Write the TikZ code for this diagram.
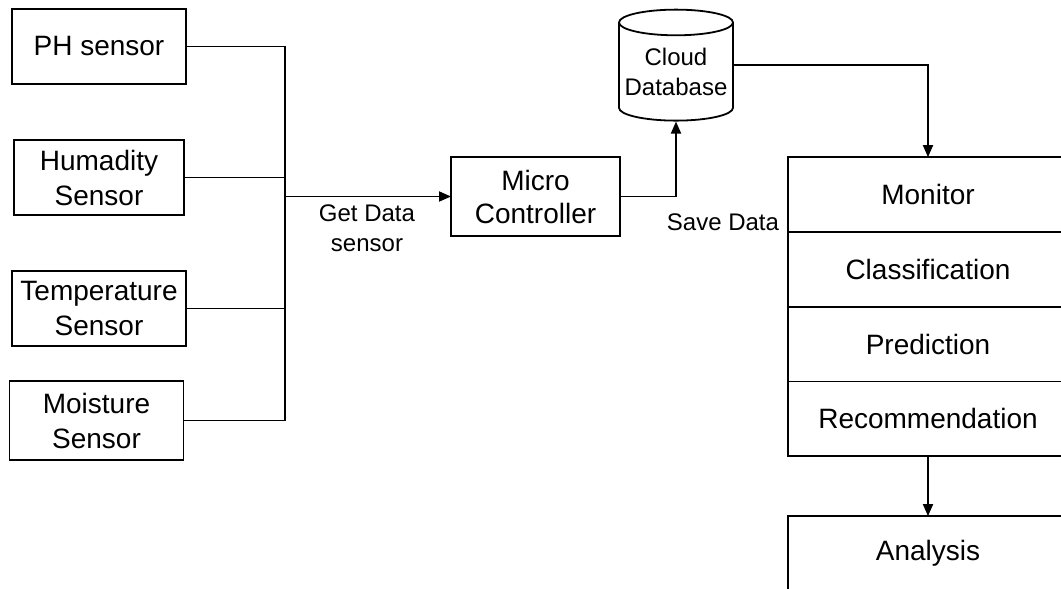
\documentclass[tikz,border=0pt]{standalone}
\usepackage{fontspec}
\setmainfont{Liberation Sans}
\usetikzlibrary{shapes.geometric,arrows.meta,positioning,calc}

\begin{document}
\begin{tikzpicture}[x=0.5pt, y=-0.5pt,
    box/.style={draw, line width=0.9pt, align=center, inner sep=0pt, outer sep=0pt,
        font=\fontsize{14}{17.5}\selectfont},
    sensor/.style={box, minimum width=87pt, minimum height=37.5pt},
    layer/.style={box, minimum width=140pt, minimum height=37.4pt},
    db/.style={draw, line width=0.9pt, cylinder, shape border rotate=90, aspect=0.25,
        minimum width=57pt, minimum height=55.5pt, align=center, inner sep=0pt,
        font=\fontsize{12}{15}\selectfont},
    lbl/.style={align=center, font=\fontsize{12}{15}\selectfont},
    link/.style={line width=0.9pt},
    flow/.style={link, -{Triangle[length=6pt, width=5pt]}}]
    \useasboundingbox (0,0) rectangle (1061,589);

    % Sensors
    \node[sensor] (ph) at (99,46.5) {PH sensor};
    \node[sensor, minimum width=85pt] (hum) at (99,177.5) {Humadity\\Sensor};
    \node[sensor] (temp) at (99,308.5) {Temperature\\Sensor};
    \node[sensor, minimum height=39.5pt] (moist) at (96.5,420.5) {Moisture\\Sensor};

    % Controller and cloud
    \node[box, minimum width=84.5pt, minimum height=39.5pt, font=\fontsize{14}{16.5}\selectfont]
        (micro) at (535.5,196.5) {Micro\\Controller};
    \node[db] (cloud) at (676,72) {Cloud\\Database};

    % Processing stack
    \node[layer] (mon) at (928,194.5) {Monitor};
    \node[layer, below=0pt of mon] (cls) {Classification};
    \node[layer, below=0pt of cls] (pred) {Prediction};
    \node[layer, below=0pt of pred] (rec) {Recommendation};
    \node[layer] (ana) at (928,553.5) {Analysis};

    % Bus
    \coordinate (bus) at (285,196.5);
    \draw[link] (ph.east) -| (bus) |- (moist.east);
    \draw[link] (hum.east) -- (hum.east -| bus);
    \draw[link] (temp.east) -- (temp.east -| bus);
    \draw[flow] (bus) -- (micro.west);

    % Data flow
    \draw[flow] (micro.east) -| (cloud.south);
    \draw[flow] ($(cloud.east)+(0,-7)$) -| (mon.north);
    \draw[flow] (rec.south) -- (ana.north);

    % Labels
    \node[lbl] (get) at (367,228) {Get Data\\sensor};
    \node[lbl] (save) at (723,222) {Save Data};
\end{tikzpicture}
\end{document}
